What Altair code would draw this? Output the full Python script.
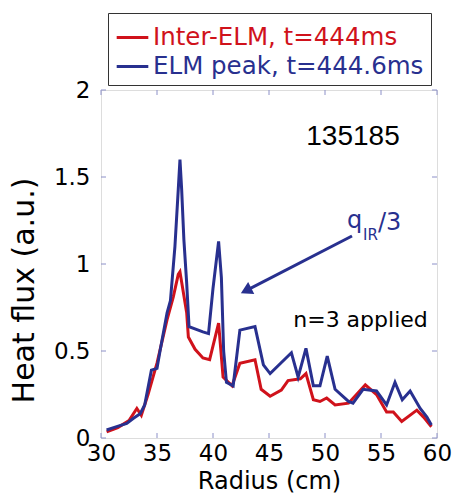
import altair as alt
import pandas as pd

# ---- data ----
red_label = "Inter-ELM, t=444ms"
blue_label = "ELM peak, t=444.6ms"

red_r = [30.5, 31.5, 32.5, 33.2, 33.6, 34.2, 35.0, 35.9, 36.45, 36.9, 37.05, 37.65, 37.8,
         38.4, 39.1, 39.7, 40.5, 40.9, 41.7, 42.4, 43.75, 44.3, 45.1, 46.1, 46.7, 47.8,
         48.3, 48.96, 49.55, 50.15, 50.9, 52.1, 53.6, 54.6, 55.5, 56.1, 56.85, 58.2,
         58.8, 59.5]
red_v = [0.035, 0.06, 0.10, 0.17, 0.13, 0.25, 0.43, 0.68, 0.81, 0.94, 0.955, 0.72, 0.58,
         0.51, 0.46, 0.45, 0.66, 0.35, 0.30, 0.43, 0.45, 0.28, 0.24, 0.275, 0.33, 0.34,
         0.37, 0.22, 0.21, 0.23, 0.19, 0.20, 0.305, 0.25, 0.15, 0.15, 0.095, 0.16,
         0.12, 0.065]

blue_r = [30.5, 31.4, 32.3, 32.9, 33.5, 33.9, 34.5, 35.0, 35.27, 35.9, 36.2, 36.6, 36.9,
          37.05, 37.2, 37.4, 37.65, 37.86, 39.1, 39.6, 40.0, 40.5, 40.75, 40.95, 41.2, 41.8,
          42.4, 43.75, 44.5, 45.1, 47.0, 47.6, 48.3, 48.96, 49.55, 50.2, 50.9, 52.1, 52.5,
          53.4, 54.6, 55.5, 56.25, 56.9, 57.6, 58.5, 59.1, 59.5]
blue_v = [0.046, 0.065, 0.084, 0.113, 0.14, 0.19, 0.39, 0.40, 0.50, 0.72, 0.79, 1.10, 1.43,
          1.60, 1.43, 1.14, 0.89, 0.64, 0.61, 0.60, 0.86, 1.13, 0.92, 0.50, 0.32, 0.30,
          0.62, 0.64, 0.42, 0.37, 0.49, 0.35, 0.515, 0.30, 0.30, 0.47, 0.28, 0.21, 0.20,
          0.28, 0.27, 0.19, 0.32, 0.22, 0.27, 0.17, 0.12, 0.075]

x_ticks = [30, 35, 40, 45, 50, 55, 60]
y_ticks = [0, 0.5, 1, 1.5, 2]

RED = "#d0121b"
BLUE = "#28308f"
FRAME = "#8c90c8"
FONT = "DejaVu Sans"

W, H = 336, 348

df = pd.DataFrame(
    {"radius": red_r + blue_r,
     "flux": red_v + blue_v,
     "series": [red_label] * len(red_r) + [blue_label] * len(blue_r),
     "order": list(range(len(red_r))) + list(range(len(blue_r)))}
)

xscale = alt.Scale(domain=[30, 60], nice=False, zero=False)
yscale = alt.Scale(domain=[0, 2], nice=False, zero=False)

lines = alt.Chart(df).mark_line(strokeWidth=3, clip=True).encode(
    x=alt.X("radius:Q", scale=xscale,
            axis=alt.Axis(values=x_ticks, title="Radius (cm)", ticks=False, tickSize=0,
                          domain=False, grid=False, labelFont=FONT, labelFontSize=23,
                          labelColor="black", labelPadding=4, labelFlush=False,
                          labelOverlap=False, titleFont=FONT, titleFontSize=24,
                          titleFontWeight="normal", titleColor="black",
                          titleX=168, titleY=50, titleBaseline="alphabetic",
                          titleAlign="center")),
    y=alt.Y("flux:Q", scale=yscale,
            axis=alt.Axis(values=y_ticks, title="Heat flux (a.u.)", format="~g",
                          ticks=False, tickSize=0, domain=False, grid=False,
                          labelFont=FONT, labelFontSize=23, labelColor="black",
                          labelPadding=11, labelFlush=False, labelOverlap=False,
                          titleFont=FONT, titleFontSize=30, titleFontWeight="normal",
                          titleColor="black", titleX=-77, titleY=200,
                          titleAlign="center", titleBaseline="middle")),
    color=alt.Color("series:N",
                    scale=alt.Scale(domain=[red_label, blue_label], range=[RED, BLUE]),
                    legend=alt.Legend(orient="none", legendX=7, legendY=-77, title=None,
                                      symbolType="stroke", symbolSize=1000,
                                      symbolStrokeWidth=3, labelFont=FONT,
                                      labelFontSize=24.5, labelLimit=500,
                                      labelOffset=3, padding=7, rowPadding=0,
                                      strokeColor="#333333", fillColor="white",
                                      labelColor=alt.ExprRef(
                                          expr="datum.label == '" + red_label + "' ? '" + RED + "' : '" + BLUE + "'"))),
    order="order:Q",
)

# inward tick marks on all four sides
xt = pd.DataFrame({"t": x_ticks})
yt = pd.DataFrame({"t": y_ticks})
tick_bottom = alt.Chart(xt).mark_rule(color=FRAME, strokeWidth=1).encode(
    x=alt.X("t:Q", scale=xscale), y=alt.value(H), y2=alt.value(H - 5))
tick_top = alt.Chart(xt).mark_rule(color=FRAME, strokeWidth=1).encode(
    x=alt.X("t:Q", scale=xscale), y=alt.value(0), y2=alt.value(5))
tick_left = alt.Chart(yt).mark_rule(color=FRAME, strokeWidth=1).encode(
    y=alt.Y("t:Q", scale=yscale), x=alt.value(0), x2=alt.value(5))
tick_right = alt.Chart(yt).mark_rule(color=FRAME, strokeWidth=1).encode(
    y=alt.Y("t:Q", scale=yscale), x=alt.value(W), x2=alt.value(W - 5))

# annotations
shot = alt.Chart(pd.DataFrame({"x": [52.5], "y": [1.684], "t": ["135185"]})).mark_text(
    font="Liberation Sans", fontSize=28, color="black", align="center",
    baseline="alphabetic").encode(x=alt.X("x:Q", scale=xscale), y=alt.Y("y:Q", scale=yscale), text="t:N")
applied = alt.Chart(pd.DataFrame({"x": [53.17], "y": [0.638], "t": ["n=3 applied"]})).mark_text(
    font=FONT, fontSize=22, color="black", align="center",
    baseline="alphabetic").encode(x=alt.X("x:Q", scale=xscale), y=alt.Y("y:Q", scale=yscale), text="t:N")

q_main = alt.Chart(pd.DataFrame({"x": [51.96, 54.73], "y": [1.207, 1.195], "t": ["q", "/3"]})).mark_text(
    font=FONT, fontSize=24, color=BLUE, align="left",
    baseline="alphabetic").encode(x=alt.X("x:Q", scale=xscale), y=alt.Y("y:Q", scale=yscale), text="t:N")
q_sub = alt.Chart(pd.DataFrame({"x": [53.39], "y": [1.138], "t": ["IR"]})).mark_text(
    font=FONT, fontSize=15, color=BLUE, align="left",
    baseline="alphabetic").encode(x=alt.X("x:Q", scale=xscale), y=alt.Y("y:Q", scale=yscale), text="t:N")

arrow_line = alt.Chart(pd.DataFrame({"x": [52.41], "y": [1.161], "x2": [42.95], "y2": [0.847]})).mark_rule(
    color=BLUE, strokeWidth=3).encode(
    x=alt.X("x:Q", scale=xscale), y=alt.Y("y:Q", scale=yscale), x2="x2:Q", y2="y2:Q")
arrow_head = alt.Chart(pd.DataFrame({"x": [42.95], "y": [0.847]})).mark_point(
    shape="triangle-up", filled=True, color=BLUE, opacity=1, size=180, angle=243).encode(
    x=alt.X("x:Q", scale=xscale), y=alt.Y("y:Q", scale=yscale))

chart = alt.layer(
    lines, tick_bottom, tick_top, tick_left, tick_right,
    shot, applied, q_main, q_sub, arrow_line, arrow_head
).properties(
    width=W, height=H, autosize="none",
    padding={"left": 101, "top": 90, "right": 18, "bottom": 62},
).configure_view(stroke=FRAME, strokeWidth=1.2).configure(background="white")

chart.save("out.html", embed_options={"renderer": "svg", "actions": False})
